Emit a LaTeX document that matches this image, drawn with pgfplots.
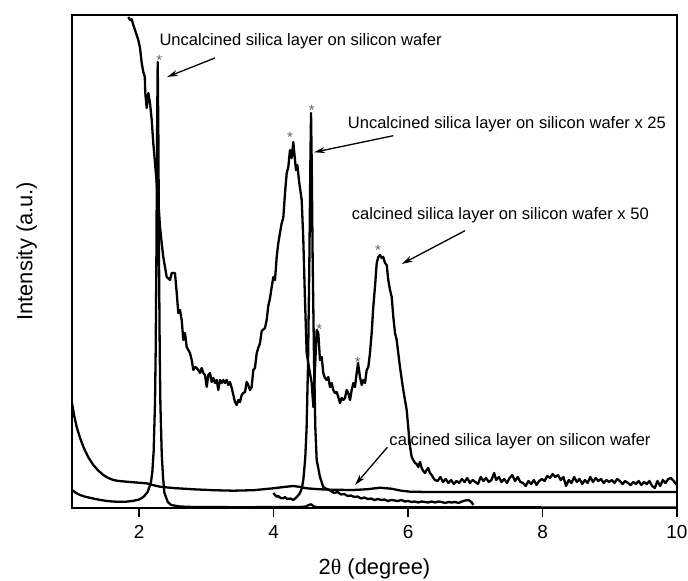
\documentclass[border=0pt]{standalone}
\usepackage{fontspec}
\setmainfont{Liberation Sans}
\newfontfamily\symfont{Liberation Serif}
\usepackage{pgfplots}
\pgfplotsset{compat=1.18}
\usetikzlibrary{arrows.meta}
\definecolor{stargray}{RGB}{100,100,100}

\begin{document}
\begin{tikzpicture}
\useasboundingbox (-72bp,-73bp) rectangle (616bp,508bp);
\begin{axis}[
  at={(0,0)}, anchor=south west,
  scale only axis,
  width=605bp, height=493bp,
  xmin=1, xmax=10, ymin=0, ymax=493,
  clip=false,
  axis line style={line width=1.8bp},
  xtick={2,4,6,8,10}, ytick=\empty,
  xtick pos=bottom, tick align=outside,
  major tick length=9bp,
  tick style={line width=1.6bp, black},
  /pgf/number format/assume math mode=true,
  xticklabel style={font=\fontsize{19}{21}\selectfont, yshift=-5bp},
  xlabel={2{\symfont θ} (degree)},
  ylabel={Intensity (a.u.)},
  xlabel style={font=\fontsize{22}{24}\selectfont, at={(axis description cs:0.5,-0.1339)}, anchor=base},
  ylabel style={font=\fontsize{22}{24}\selectfont, at={(axis description cs:-0.0656,0.521)}, anchor=base},
  curve/.style={black, line width=2.3bp, line join=round, mark=none},
]
% calcined silica layer on silicon wafer x 50
\addplot[curve] coordinates {
(1.838,491) (1.863,488) (1.888,488.7) (1.912,483) (1.937,478) (1.962,473) (1.986,468) (2.012,460) (2.037,445) (2.061,436)
(2.083,431) (2.090,415) (2.111,400) (2.135,415) (2.160,405) (2.186,388) (2.209,365) (2.235,345) (2.260,325) (2.284,308)
(2.309,281) (2.334,265) (2.358,251) (2.409,231) (2.458,228) (2.483,235) (2.532,235) (2.558,215) (2.581,195) (2.607,198)
(2.632,188) (2.656,168) (2.681,175) (2.706,161) (2.755,155) (2.781,148) (2.805,138) (2.830,141) (2.855,140) (2.879,138)
(2.904,135) (2.929,140) (2.953,135) (2.979,133) (3.004,121) (3.028,133) (3.053,135) (3.078,126) (3.102,130) (3.127,125)
(3.153,128) (3.176,118) (3.202,128) (3.227,125) (3.251,128) (3.276,125) (3.301,128) (3.325,123) (3.350,126) (3.376,120)
(3.400,113) (3.425,106) (3.450,103) (3.474,108) (3.499,106) (3.525,113) (3.548,115) (3.574,116) (3.599,126) (3.623,123)
(3.648,118) (3.673,121) (3.697,138) (3.722,140) (3.748,155) (3.771,160) (3.797,165) (3.822,177) (3.871,180) (3.896,188)
(3.920,202) (3.946,210) (3.971,221) (3.995,231) (4.020,228) (4.045,251) (4.069,265) (4.094,275) (4.120,285) (4.143,290)
(4.169,315) (4.194,335) (4.218,341) (4.243,358) (4.268,350) (4.292,366) (4.317,348) (4.332,338) (4.352,343) (4.381,325)
(4.417,308) (4.441,268) (4.466,208) (4.491,155) (4.515,145) (4.540,135) (4.566,125) (4.590,101) (4.640,178) (4.664,175)
(4.689,148) (4.715,151) (4.738,135) (4.763,130) (4.789,128) (4.813,131) (4.838,121) (4.863,125) (4.887,118) (4.912,115)
(4.938,116) (4.962,111) (4.987,105) (5.012,110) (5.036,108) (5.061,110) (5.086,118) (5.110,115) (5.136,108) (5.161,118)
(5.185,125) (5.210,121) (5.235,135) (5.255,145) (5.284,131) (5.310,123) (5.333,128) (5.359,125) (5.384,138) (5.408,141)
(5.433,155) (5.458,175) (5.482,201) (5.507,221) (5.533,245) (5.557,251) (5.582,253) (5.607,250) (5.631,251) (5.656,245)
(5.682,243) (5.705,228) (5.731,218) (5.756,211) (5.780,191) (5.805,175) (5.830,168) (5.879,141) (5.928,118) (5.979,98)
(6.003,80) (6.028,62) (6.053,51) (6.077,48) (6.103,45) (6.128,44) (6.152,41) (6.177,46) (6.202,40) (6.226,37)
(6.251,35) (6.276,38) (6.300,40) (6.325,35) (6.351,33) (6.375,30) (6.400,28)
(6.44,27) (6.48,31) (6.52,26) (6.56,29) (6.60,25) (6.64,28) (6.68,24) (6.72,27) (6.76,25) (6.80,29)
(6.84,26) (6.88,30) (6.92,25) (6.96,28) (7.00,26) (7.04,24) (7.08,31) (7.12,27) (7.16,30) (7.20,26)
(7.24,28) (7.28,35) (7.31,28) (7.35,31) (7.39,26) (7.43,29) (7.47,25) (7.51,30) (7.55,33) (7.59,27)
(7.63,31) (7.67,26) (7.71,25) (7.75,22) (7.79,27) (7.83,24) (7.87,28) (7.91,23) (7.95,27) (7.99,29)
(8.03,27) (8.07,32) (8.11,30) (8.15,34) (8.19,31) (8.23,33) (8.27,28) (8.31,31) (8.35,22) (8.39,28)
(8.43,25) (8.47,31) (8.51,26) (8.55,29) (8.59,24) (8.63,28) (8.67,25) (8.71,31) (8.75,26) (8.79,30)
(8.83,27) (8.87,29) (8.91,25) (8.95,28) (8.99,26) (9.03,28) (9.07,25) (9.11,29) (9.15,27) (9.19,24)
(9.23,27) (9.27,25) (9.31,23) (9.35,26) (9.39,24) (9.43,27) (9.47,23) (9.51,26) (9.55,24) (9.59,27)
(9.63,22) (9.67,20) (9.71,27) (9.75,22) (9.79,28) (9.83,25) (9.87,29) (9.91,30) (9.95,27) (10.0,23)
};
% Uncalcined silica layer on silicon wafer
\addplot[curve] coordinates {
(1.0,18) (1.06,15) (1.12,13) (1.2,11.2) (1.3,9.7) (1.4,8.3) (1.5,7.2) (1.6,6.5) (1.7,6.2) (1.8,6.3)
(1.9,7) (2.0,8.5) (2.05,10.5) (2.075,12) (2.125,16) (2.175,26) (2.195,36) (2.215,57) (2.235,106) (2.245,158)
(2.255,244) (2.265,370) (2.275,446) (2.285,370) (2.295,244) (2.305,157) (2.315,104) (2.335,54) (2.355,30) (2.375,15)
(2.425,6) (2.475,3) (2.6,1.5) (2.8,1) (3.5,0.8) (4.4,1) (4.48,1.5) (4.52,3) (4.556,3.7) (4.6,1.5)
(4.65,0.8) (6,0.7) (8,0.6) (10,0.5)
};
% Uncalcined silica layer on silicon wafer x 25
\addplot[curve] coordinates {
(3.995,15) (4.02,13) (4.045,11.3) (4.07,12) (4.1,10) (4.143,9.7) (4.17,11) (4.2,9) (4.25,9.5) (4.292,8)
(4.34,10.7) (4.39,14.7) (4.42,20) (4.441,28) (4.47,50) (4.49,80) (4.51,140) (4.53,240) (4.545,340) (4.556,395)
(4.567,340) (4.58,250) (4.60,150) (4.62,80) (4.64,48) (4.689,31) (4.738,21) (4.79,19) (4.84,17.5) (4.9,15)
(4.95,16) (5.0,13.5) (5.05,14) (5.1,12) (5.15,12.5) (5.2,11) (5.25,11.5) (5.3,9.5) (5.35,10.5) (5.4,9)
(5.45,9.5) (5.5,8) (5.55,9) (5.6,8) (5.65,8.5) (5.7,7) (5.75,8) (5.8,7.5) (5.85,7) (5.9,8)
(5.95,6.5) (6.0,7) (6.05,6) (6.1,6.5) (6.15,5.5) (6.2,6.5) (6.25,6) (6.3,5.5) (6.35,6.5) (6.4,5.5)
(6.45,6.5) (6.5,6) (6.55,5) (6.6,6) (6.65,5.5) (6.7,6) (6.75,5) (6.8,6.5) (6.85,7.5) (6.9,8)
(6.94,6) (6.97,3)
};
% calcined silica layer on silicon wafer
\addplot[curve] coordinates {
(1.0,105) (1.03,93) (1.07,81) (1.12,70) (1.17,61) (1.24,51) (1.317,43) (1.39,37.5) (1.466,33) (1.54,30)
(1.615,28) (1.7,27) (1.814,26.3) (1.95,25.5) (2.111,24.7) (2.2,23) (2.309,21.3) (2.5,20) (2.805,18.7) (3.1,17.8)
(3.4,17.3) (3.7,17.8) (3.995,19.7) (4.15,21) (4.292,22) (4.4,21) (4.49,19.7) (4.689,18.7) (4.9,18.2) (5.185,18)
(5.4,18.8) (5.582,20.3) (5.75,19.3) (5.9,17.3) (6.03,16.3) (6.3,16) (7,16) (8,16) (9,16) (10,16)
};

% peak markers
\begin{scope}[every node/.style={font=\fontsize{15}{15}\selectfont, text=stargray, anchor=base, inner sep=0pt}]
\node at (axis cs:2.299,442.5) {*};
\node at (axis cs:4.566,392) {*};
\node at (axis cs:4.243,365.5) {*};
\node at (axis cs:5.552,252.5) {*};
\node at (axis cs:4.679,173.5) {*};
\node at (axis cs:5.250,140.5) {*};
\end{scope}

% annotations
\begin{scope}[every node/.style={font=\fontsize{16.6}{18}\selectfont, anchor=base west, inner sep=0pt}]
\node at (axis cs:2.299,462.3) {Uncalcined silica layer on silicon wafer};
\node at (axis cs:5.101,379.7) {Uncalcined silica layer on silicon wafer x 25};
\node at (axis cs:5.161,288) {calcined silica layer on silicon wafer x 50};
\node at (axis cs:5.720,63) {calcined silica layer on silicon wafer};
\end{scope}
\begin{scope}[line width=1.3bp, -{Stealth[length=11bp,width=6bp]}]
\draw (axis cs:3.127,450) -- (axis cs:2.413,431);
\draw (axis cs:5.780,372.3) -- (axis cs:4.600,355.7);
\draw (axis cs:6.846,277.3) -- (axis cs:5.905,244);
\draw (axis cs:5.691,60.7) -- (axis cs:5.210,23);
\end{scope}
\end{axis}
\end{tikzpicture}
\end{document}
